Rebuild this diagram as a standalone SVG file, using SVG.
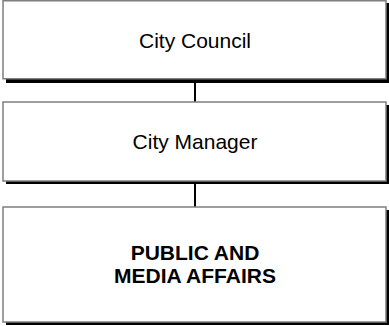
<svg xmlns="http://www.w3.org/2000/svg" width="389" height="326" viewBox="0 0 389 326">
<style>
.shadow{fill:#000}
.box{fill:#fff;stroke:#7f7f7f;stroke-width:1.5}
.t{font-family:"Liberation Sans",Arial,sans-serif;font-size:21px;fill:#000;text-anchor:middle}
.b{font-weight:bold}
.conn{stroke:#000;stroke-width:2;fill:none}
</style>
<rect width="389" height="326" fill="#fff"/>
<g id="connectors">
<line class="conn" x1="195" y1="80" x2="195" y2="102"/>
<line class="conn" x1="195" y1="182" x2="195" y2="207"/>
</g>
<g id="city-council">
<rect class="shadow" x="6" y="3" width="383" height="80"/>
<rect class="box" x="3" y="0.75" width="383" height="78"/>
<text class="t" x="195" y="47.5">City Council</text>
</g>
<g id="city-manager">
<rect class="shadow" x="6" y="105" width="383" height="79"/>
<rect class="box" x="3" y="102" width="383" height="79"/>
<text class="t" x="195" y="148.5">City Manager</text>
</g>
<g id="public-media-affairs">
<rect class="shadow" x="6" y="210" width="383" height="115"/>
<rect class="box" x="3" y="207" width="383" height="115"/>
<text class="t b" x="195" y="260">PUBLIC AND</text>
<text class="t b" x="195" y="283">MEDIA AFFAIRS</text>
</g>
</svg>
